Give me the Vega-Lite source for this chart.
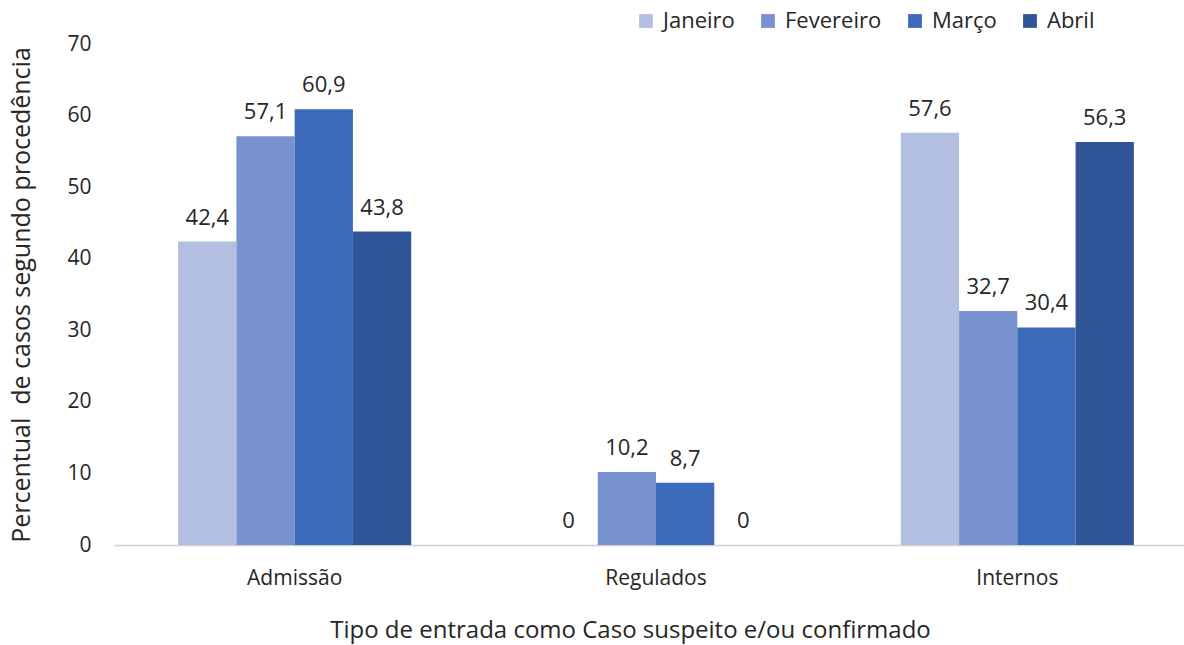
{
  "$schema": "https://vega.github.io/schema/vega-lite/v6.json",
  "width": 1070,
  "height": 501,
  "autosize": {"type": "none"},
  "padding": {"left": 114, "top": 44, "right": 0, "bottom": 100},
  "background": "white",
  "config": {
    "locale": {"number": {"decimal": ",", "thousands": ".", "grouping": [3], "currency": ["R$", ""]}},
    "view": {"stroke": null},
    "font": "Open Sans"
  },
  "data": {
    "values": [
      {"tipo": "Admissão", "mes": "Janeiro", "valor": 42.4},
      {"tipo": "Admissão", "mes": "Fevereiro", "valor": 57.1},
      {"tipo": "Admissão", "mes": "Março", "valor": 60.9},
      {"tipo": "Admissão", "mes": "Abril", "valor": 43.8},
      {"tipo": "Regulados", "mes": "Janeiro", "valor": 0},
      {"tipo": "Regulados", "mes": "Fevereiro", "valor": 10.2},
      {"tipo": "Regulados", "mes": "Março", "valor": 8.7},
      {"tipo": "Regulados", "mes": "Abril", "valor": 0},
      {"tipo": "Internos", "mes": "Janeiro", "valor": 57.6},
      {"tipo": "Internos", "mes": "Fevereiro", "valor": 32.7},
      {"tipo": "Internos", "mes": "Março", "valor": 30.4},
      {"tipo": "Internos", "mes": "Abril", "valor": 56.3}
    ]
  },
  "encoding": {
    "x": {
      "field": "tipo", "type": "nominal", "sort": ["Admissão", "Regulados", "Internos"],
      "scale": {"range": [0, 1084], "paddingInner": 0.355, "paddingOuter": 0.1775},
      "axis": {
        "title": "Tipo de entrada como Caso suspeito e/ou confirmado",
        "labelAngle": 0, "labelFontSize": 21, "labelColor": "#262626", "labelPadding": 22,
        "titleFontSize": 24, "titleFontWeight": "normal", "titleColor": "#262626", "titlePadding": 30,
        "titleX": 516, "titleAlign": "center", "titleAnchor": "start",
        "ticks": false, "domainColor": "#d0d0d0", "domainWidth": 1.5
      }
    },
    "xOffset": {"field": "mes", "type": "nominal", "sort": ["Janeiro", "Fevereiro", "Março", "Abril"], "scale": {"paddingInner": 0, "paddingOuter": 0}},
    "y": {
      "field": "valor", "type": "quantitative",
      "scale": {"domain": [0, 70], "nice": false},
      "axis": {
        "title": "Percentual\u00a0\u00a0de casos segundo procedência",
        "values": [0, 10, 20, 30, 40, 50, 60, 70],
        "grid": false, "domain": false, "ticks": false,
        "labelFontSize": 21, "labelColor": "#262626", "labelPadding": 23,
        "titleFontSize": 25, "titleFontWeight": "normal", "titleColor": "#262626", "titlePadding": 32
      }
    }
  },
  "layer": [
    {
      "mark": {"type": "bar"},
      "encoding": {
        "color": {
          "field": "mes", "type": "nominal", "sort": ["Janeiro", "Fevereiro", "Março", "Abril"],
          "scale": {"domain": ["Janeiro", "Fevereiro", "Março", "Abril"], "range": ["#b3bfe0", "#7892d0", "#3e6aba", "#2f5597"]},
          "legend": {
            "title": null, "orient": "none", "direction": "horizontal", "columns": 4,
            "legendX": 521, "legendY": -34,
            "symbolType": "square", "symbolSize": 190, "symbolStrokeWidth": 0,
            "labelFontSize": 22, "labelColor": "#262626", "labelOffset": 6, "columnPadding": 22
          }
        }
      }
    },
    {
      "mark": {"type": "text", "baseline": "alphabetic", "dy": -17, "fontSize": 22, "color": "#262626"},
      "encoding": {
        "text": {"field": "valor", "type": "quantitative", "format": ".1~f"}
      }
    }
  ]
}
